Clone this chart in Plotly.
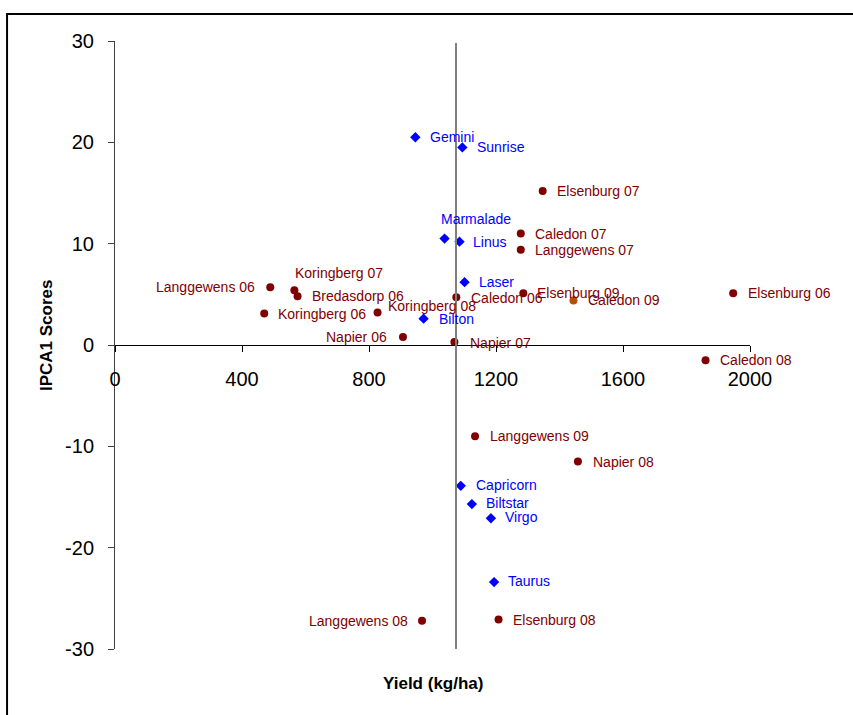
import plotly.graph_objects as go

# ---------------- data ----------------
genotypes = ["Gemini", "Sunrise", "Marmalade", "Linus", "Laser", "Bilton",
             "Capricorn", "Biltstar", "Virgo", "Taurus"]
geno_yield = [946, 1094, 1038, 1085, 1101, 972, 1089, 1124, 1184, 1194]
geno_ipca1 = [20.5, 19.5, 10.5, 10.2, 6.2, 2.6, -13.9, -15.7, -17.1, -23.4]

environments = ["Elsenburg 07", "Caledon 07", "Langgewens 07", "Langgewens 06",
                "Koringberg 07", "Bredasdorp 06", "Koringberg 06", "Koringberg 08",
                "Napier 06", "Caledon 06", "Elsenburg 09", "Caledon 09",
                "Elsenburg 06", "Napier 07", "Caledon 08", "Langgewens 09",
                "Napier 08", "Langgewens 08", "Elsenburg 08"]
env_yield = [1347, 1278, 1278, 489, 565, 575, 470, 827, 907, 1075, 1286, 1444,
             1947, 1069, 1860, 1134, 1458, 967, 1208]
env_ipca1 = [15.2, 11.0, 9.4, 5.7, 5.4, 4.8, 3.1, 3.2, 0.8, 4.7, 5.1, 4.4,
             5.1, 0.3, -1.5, -9.0, -11.5, -27.2, -27.1]

mean_yield = 1074

x_tickvals = [0, 400, 800, 1200, 1600, 2000]
x_ticktext = ["0", "400", "800", "1200", "1600", "2000"]
y_tickvals = [30, 20, 10, 0, -10, -20, -30]
y_ticktext = ["30", "20", "10", "0", "-10", "-20", "-30"]

# ---------------- styles / label placement ----------------
FONT = "Liberation Sans, Arial, sans-serif"
BLUE = "#0000FF"
MAROON = "#800000"
ODD = "#B5500B"  # Caledon 09 marker tint

# (xshift, yshift, xanchor) per label, in pixels
geno_lab = {
    "Gemini": (13, 0, "left"), "Sunrise": (13, 0, "left"),
    "Marmalade": (-6, 20, "left"), "Linus": (12, 0, "left"),
    "Laser": (12, 0, "left"), "Bilton": (13, 0, "left"),
    "Capricorn": (13, 1, "left"), "Biltstar": (12, 1, "left"),
    "Virgo": (12, 1, "left"), "Taurus": (12, 1, "left"),
}
env_lab = {
    "Elsenburg 07": (12, 0, "left"), "Caledon 07": (12, 0, "left"),
    "Langgewens 07": (12, 0, "left"), "Langgewens 06": (-13, 0, "right"),
    "Koringberg 07": (-1, 17, "left"), "Bredasdorp 06": (12, 0, "left"),
    "Koringberg 06": (12, 0, "left"), "Koringberg 08": (8, 7, "left"),
    "Napier 06": (-14, 0, "right"), "Caledon 06": (13, -1, "left"),
    "Elsenburg 09": (12, 0, "left"), "Caledon 09": (13, 0, "left"),
    "Elsenburg 06": (13, 0, "left"), "Napier 07": (14, -1, "left"),
    "Caledon 08": (12, 0, "left"), "Langgewens 09": (13, 0, "left"),
    "Napier 08": (13, 0, "left"), "Langgewens 08": (-12, 0, "right"),
    "Elsenburg 08": (12, 0, "left"),
}

env_colors = [ODD if e == "Caledon 09" else MAROON for e in environments]

fig = go.Figure()

fig.add_trace(go.Scatter(
    x=env_yield, y=env_ipca1, mode="markers", name="Environments",
    marker=dict(symbol="circle", size=8, color=env_colors),
    cliponaxis=False, hoverinfo="text", text=environments,
))
fig.add_trace(go.Scatter(
    x=geno_yield, y=geno_ipca1, mode="markers", name="Genotypes",
    marker=dict(symbol="diamond", size=8, color=BLUE),
    cliponaxis=False, hoverinfo="text", text=genotypes,
))

annotations = []
for name, xv, yv in zip(genotypes, geno_yield, geno_ipca1):
    dx, dy, anc = geno_lab[name]
    annotations.append(dict(x=xv, y=yv, xref="x", yref="y", text=name,
                            showarrow=False, xanchor=anc, yanchor="middle",
                            xshift=dx, yshift=dy,
                            font=dict(family=FONT, size=14, color=BLUE)))
for name, xv, yv in zip(environments, env_yield, env_ipca1):
    dx, dy, anc = env_lab[name]
    annotations.append(dict(x=xv, y=yv, xref="x", yref="y", text=name,
                            showarrow=False, xanchor=anc, yanchor="middle",
                            xshift=dx, yshift=dy,
                            font=dict(family=FONT, size=14, color=MAROON)))

# axis titles
annotations.append(dict(x=0.501, y=-0.056, xref="paper", yref="paper",
                        text="<b>Yield (kg/ha)</b>", showarrow=False,
                        xanchor="center", yanchor="middle",
                        font=dict(family=FONT, size=17, color="#000000")))
annotations.append(dict(x=-0.109, y=0.516, xref="paper", yref="paper",
                        text="<b>IPCA1 Scores</b>", showarrow=False, textangle=-90,
                        xanchor="center", yanchor="middle",
                        font=dict(family=FONT, size=17, color="#000000")))

shapes = [
    # mean yield reference line
    dict(type="line", xref="x", yref="y", x0=mean_yield, x1=mean_yield,
         y0=-30.5, y1=29.8, line=dict(color="#808080", width=2)),
    # outer frame
    dict(type="rect", xref="paper", yref="paper", x0=-0.170, x1=1.4,
         y0=-0.4, y1=1.0444, line=dict(color="#000000", width=2),
         fillcolor="rgba(0,0,0,0)", layer="below"),
]

fig.update_layout(
    width=853, height=715,
    margin=dict(l=115, r=103, t=41, b=66, pad=0),
    paper_bgcolor="white", plot_bgcolor="white",
    showlegend=False,
    annotations=annotations,
    shapes=shapes,
    font=dict(family=FONT, color="#000000"),
    xaxis=dict(
        range=[0, 2000], anchor="free", position=0.5,
        showline=True, linecolor="#000000", linewidth=1,
        ticks="outside", ticklen=6, tickwidth=1, tickcolor="#000000",
        tickvals=x_tickvals, ticktext=x_ticktext,
        tickfont=dict(family=FONT, size=20, color="#000000"),
        ticklabelstandoff=10,
        showgrid=False, zeroline=False, automargin=False,
    ),
    yaxis=dict(
        range=[-30, 30],
        showline=True, linecolor="#404040", linewidth=1,
        ticks="outside", ticklen=6, tickwidth=1, tickcolor="#404040",
        tickvals=y_tickvals, ticktext=y_ticktext,
        tickfont=dict(family=FONT, size=20, color="#000000"),
        ticklabelstandoff=10,
        showgrid=False, zeroline=False, automargin=False,
    ),
)

fig.write_html(
    "out.html",
    config={"displayModeBar": False},
    post_script="document.body.style.margin='0';document.body.style.overflow='hidden';",
)
